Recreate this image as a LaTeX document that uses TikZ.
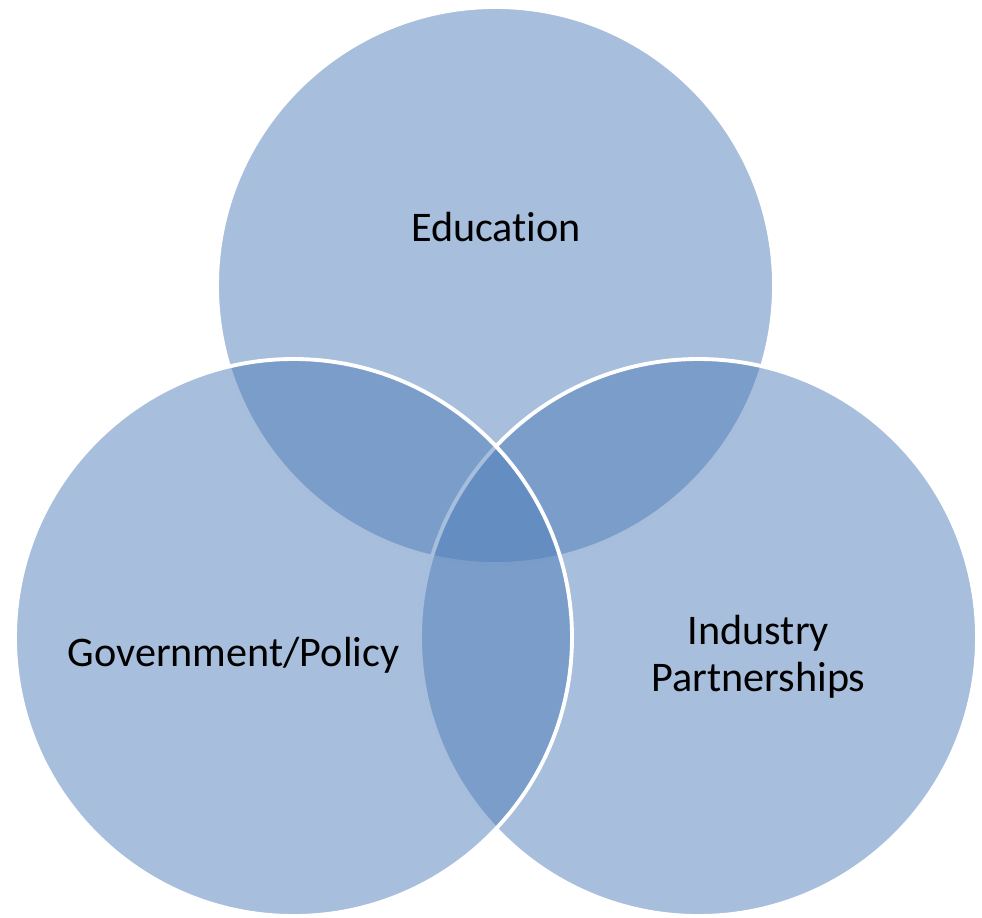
\documentclass[tikz,border=0pt]{standalone}
\usepackage{fontspec}
\setmainfont[Ligatures=NoCommon]{Carlito}
\definecolor{vennblue}{RGB}{79,125,185}

\begin{document}
\begin{tikzpicture}[
        venn/.style={circle, draw=white, line width=1.1pt, fill=vennblue,
            fill opacity=0.5, minimum size=5.57cm, inner sep=0pt},
        tag/.style={font=\fontsize{12}{13.4}\selectfont, text=black, align=center}
    ]
        \useasboundingbox (0, 0) rectangle (9.82, 9.17);

        % Circles, drawn top, right, left
        \node[venn] (edu) at (4.955, 6.315) {};
        \node[venn] (ind) at (6.985, 2.795) {};
        \node[venn] (gov) at (2.935, 2.795) {};

        % Labels
        \node[tag, anchor=base] (edutext) at (4.96, 6.76) {Education};
        \node[tag, anchor=base] (govtext) at (2.335, 2.51) {Government/Policy};
        \node[tag] (indtext) at (7.585, 2.6) {Industry\\Partnerships};
    \end{tikzpicture}
\end{document}
